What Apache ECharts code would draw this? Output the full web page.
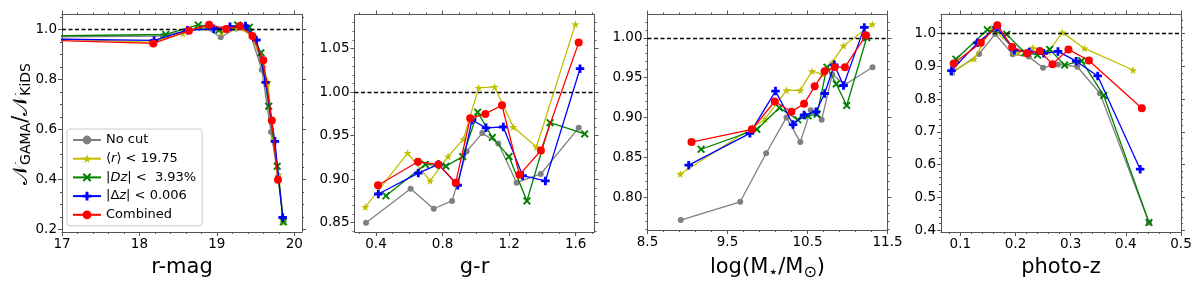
<!DOCTYPE html>
<html><head><meta charset="utf-8">
<script src="https://cdn.jsdelivr.net/npm/echarts@6/dist/echarts.min.js"></script>
<style>html,body{margin:0;padding:0;background:#fff}#c{width:1200px;height:286px}</style>
</head><body><div id="c"></div>
<script>
// ---------------- DATA ----------------
const seriesNames = ['No cut', '⟨r⟩ < 19.75', '|Dz| <  3.93%', '|Δz| < 0.006', 'Combined'];

// Panel 1: r-mag
const rmagNoCut    = [[16.5,0.970],[18.30,0.975],[18.65,0.998],[18.85,1.008],[19.05,0.970],[19.25,1.005],[19.42,0.995],[19.58,0.840],[19.70,0.590],[19.79,0.410],[19.86,0.230]];
const rmagRmean    = [[16.5,0.968],[18.15,0.950],[18.56,0.985],[18.80,1.010],[19.06,0.990],[19.25,1.008],[19.45,0.980],[19.60,0.850],[19.66,0.790],[19.73,0.560],[19.80,0.420],[19.86,0.230]];
const rmagDz       = [[16.5,0.974],[18.34,0.981],[18.76,1.019],[19.03,0.999],[19.27,1.019],[19.42,1.010],[19.57,0.908],[19.67,0.694],[19.78,0.453],[19.86,0.231]];
const rmagDeltaZ   = [[16.5,0.964],[18.19,0.957],[18.62,0.998],[18.96,1.004],[19.17,1.012],[19.37,1.015],[19.51,0.959],[19.63,0.789],[19.75,0.553],[19.85,0.248]];
const rmagCombined = [[16.5,0.961],[18.18,0.945],[18.64,0.996],[18.90,1.020],[19.12,1.003],[19.30,1.015],[19.46,0.975],[19.60,0.878],[19.71,0.637],[19.79,0.399]];

// Panel 2: g-r
const grNoCut    = [[0.340,0.850],[0.608,0.889],[0.747,0.866],[0.857,0.875],[0.945,0.932],[1.039,0.953],[1.135,0.941],[1.245,0.896],[1.390,0.906],[1.618,0.959]];
const grRmean    = [[0.336,0.868],[0.590,0.930],[0.725,0.898],[0.833,0.926],[0.925,0.946],[1.017,1.005],[1.113,1.006],[1.225,0.960],[1.364,0.937],[1.598,1.078]];
const grDz       = [[0.460,0.881],[0.696,0.917],[0.820,0.915],[0.921,0.926],[1.011,0.977],[1.099,0.948],[1.199,0.926],[1.307,0.875],[1.446,0.965],[1.654,0.952]];
const grDeltaZ   = [[0.414,0.883],[0.654,0.907],[0.775,0.917],[0.891,0.893],[0.977,0.968],[1.061,0.959],[1.165,0.960],[1.281,0.904],[1.418,0.898],[1.626,1.027]];
const grCombined = [[0.412,0.893],[0.652,0.920],[0.775,0.917],[0.879,0.896],[0.966,0.970],[1.057,0.975],[1.157,0.985],[1.262,0.905],[1.391,0.933],[1.618,1.057]];

// Panel 3: log stellar mass
const massNoCut    = [[8.915,0.771],[9.659,0.794],[9.983,0.855],[10.237,0.900],[10.410,0.869],[10.540,0.909],[10.677,0.897],[10.810,0.954],[10.968,0.941],[11.313,0.963]];
const massRmean    = [[8.910,0.829],[9.810,0.887],[9.970,0.898],[10.237,0.934],[10.410,0.934],[10.556,0.958],[10.690,0.954],[10.810,0.969],[10.950,0.990],[11.310,1.017]];
const massDz       = [[9.170,0.860],[9.867,0.885],[10.150,0.912],[10.378,0.897],[10.507,0.902],[10.620,0.904],[10.743,0.963],[10.860,0.942],[10.990,0.915],[11.240,1.000]];
const massDeltaZ   = [[9.015,0.840],[9.780,0.880],[10.100,0.933],[10.320,0.891],[10.457,0.903],[10.606,0.907],[10.714,0.930],[10.835,0.966],[10.950,0.940],[11.210,1.013]];
const massCombined = [[9.050,0.869],[9.805,0.885],[10.090,0.920],[10.300,0.907],[10.457,0.917],[10.590,0.939],[10.714,0.958],[10.840,0.963],[10.968,0.963],[11.230,1.003]];

// Panel 4: photo-z
const zNoCut    = [[0.085,0.880],[0.134,0.938],[0.163,0.999],[0.195,0.937],[0.224,0.930],[0.250,0.896],[0.277,0.906],[0.312,0.899],[0.353,0.818],[0.442,0.423]];
const zRmean    = [[0.085,0.884],[0.125,0.923],[0.157,1.017],[0.205,0.943],[0.231,0.957],[0.260,0.945],[0.285,1.004],[0.325,0.955],[0.413,0.889]];
const zDz       = [[0.092,0.922],[0.149,1.012],[0.184,0.998],[0.217,0.942],[0.240,0.935],[0.262,0.952],[0.289,0.904],[0.320,0.917],[0.360,0.811],[0.442,0.423]];
const zDeltaZ   = [[0.084,0.887],[0.131,0.972],[0.166,1.019],[0.198,0.950],[0.225,0.944],[0.251,0.940],[0.277,0.946],[0.310,0.916],[0.349,0.871],[0.426,0.586]];
const zCombined = [[0.088,0.909],[0.137,0.972],[0.167,1.026],[0.194,0.959],[0.221,0.940],[0.244,0.947],[0.267,0.907],[0.296,0.952],[0.333,0.918],[0.429,0.772]];

// Tick labels
const rmagXTicks = [17, 18, 19, 20];
const rmagYTicks = [0.2, 0.4, 0.6, 0.8, 1.0];
const grXTicks = [0.4, 0.8, 1.2, 1.6];
const grYTicks = [0.85, 0.90, 0.95, 1.00, 1.05];
const massXTicks = [8.5, 9.5, 10.5, 11.5];
const massYTicks = [0.80, 0.85, 0.90, 0.95, 1.00];
const zXTicks = [0.1, 0.2, 0.3, 0.4, 0.5];
const zYTicks = [0.4, 0.5, 0.6, 0.7, 0.8, 0.9, 1.0];
const referenceLevel = 1.0;

// ---------------- CHART ----------------
const FONT = 'DejaVu Sans';
const frameColor = '#555';
const colors = ['#808080', '#bfbf00', '#008000', '#0000ff', '#ff0000'];
const symbols = [
  'circle',
  'path://M0,-10L2.35,-3.24L9.51,-3.09L3.8,1.24L5.88,8.09L0,4L-5.88,8.09L-3.8,1.24L-9.51,-3.09L-2.35,-3.24Z',
  'path://M-3,-2L-2,-3L0,-1L2,-3L3,-2L1,0L3,2L2,3L0,1L-2,3L-3,2L-1,0Z',
  'path://M-1,-3L1,-3L1,-1L3,-1L3,1L1,1L1,3L-1,3L-1,1L-3,1L-3,-1L-1,-1Z',
  'circle'
];
const symbolSizes = [6, 8, 8, 8.5, 8];

const panels = [
  {xr:[17, 20.1], yr:[0.19, 1.061], xt:rmagXTicks, yt:rmagYTicks, xdiv:5, ydiv:4, xdec:0, ydec:1,
   name:'r-mag', data:[rmagNoCut, rmagRmean, rmagDz, rmagDeltaZ, rmagCombined]},
  {xr:[0.2708, 1.713], yr:[0.8393, 1.0893], xt:grXTicks, yt:grYTicks, xdiv:4, ydiv:5, xdec:1, ydec:2,
   name:'g-r', data:[grNoCut, grRmean, grDz, grDeltaZ, grCombined]},
  {xr:[8.5, 11.5], yr:[0.7586, 1.0292], xt:massXTicks, yt:massYTicks, xdiv:5, ydiv:5, xdec:1, ydec:2,
   name:'log(M{s|⋆}/M{s|⊙})', data:[massNoCut, massRmean, massDz, massDeltaZ, massCombined]},
  {xr:[0.065, 0.5], yr:[0.394, 1.0587], xt:zXTicks, yt:zYTicks, xdiv:5, ydiv:5, xdec:1, ydec:1,
   name:'photo-z', data:[zNoCut, zRmean, zDz, zDeltaZ, zCombined]}
];
const gridLefts = [62, 354.5, 647.5, 941];
const gridWidth = 240, gridTop = 14.5, gridHeight = 217.5;

function minors(ticks, div, lo, hi) {
  const step = (ticks[1] - ticks[0]) / div;
  const out = [];
  const start = ticks[0] - Math.ceil((ticks[0] - lo) / step) * step;
  for (let v = start; v <= hi + 1e-9; v += step) {
    const isMajor = ticks.some(t => Math.abs(t - v) < step * 1e-3);
    if (!isMajor && v >= lo - 1e-9) out.push(+v.toFixed(6));
  }
  return out;
}

const grids = [], xAxes = [], yAxes = [], series = [];
const lineStyleFrame = {color: frameColor, width: 1};
panels.forEach((p, i) => {
  grids.push({left: gridLefts[i], top: gridTop, width: gridWidth, height: gridHeight});
  const xm = minors(p.xt, p.xdiv, p.xr[0], p.xr[1]);
  const ym = minors(p.yt, p.ydiv, p.yr[0], p.yr[1]);
  const base = (dimMin, dimMax) => ({type: 'value', gridIndex: i, min: dimMin, max: dimMax, splitLine: {show: false}, silent: true});
  ['bottom', 'top'].forEach(pos => {
    xAxes.push(Object.assign(base(p.xr[0], p.xr[1]), {
      position: pos,
      axisLine: {show: true, onZero: false, lineStyle: lineStyleFrame},
      axisTick: {show: true, customValues: p.xt, length: 4, lineStyle: lineStyleFrame},
      axisLabel: pos === 'bottom' ? {show: true, customValues: p.xt, formatter: v => v.toFixed(p.xdec), fontFamily: FONT, fontSize: 13.5, color: '#000', margin: 5} : {show: false},
      name: pos === 'bottom' ? p.name : '',
      nameLocation: 'middle', nameGap: 25,
      nameTextStyle: {fontFamily: FONT, fontSize: 21, color: '#000', rich: {s: {fontFamily: FONT, fontSize: 16, color: '#000', verticalAlign: 'bottom', padding: [10, 0, 0, 0]}}}
    }));
    xAxes.push(Object.assign(base(p.xr[0], p.xr[1]), {
      position: pos,
      axisLine: {show: false, onZero: false},
      axisTick: {show: true, customValues: xm, length: 2, lineStyle: lineStyleFrame},
      axisLabel: {show: false}
    }));
  });
  ['left', 'right'].forEach(pos => {
    yAxes.push(Object.assign(base(p.yr[0], p.yr[1]), {
      position: pos,
      axisLine: {show: true, onZero: false, lineStyle: lineStyleFrame},
      axisTick: {show: true, customValues: p.yt, length: 4, lineStyle: lineStyleFrame},
      axisLabel: pos === 'left' ? {show: true, customValues: p.yt, formatter: v => v.toFixed(p.ydec), fontFamily: FONT, fontSize: 13.5, color: '#000', margin: 5} : {show: false}
    }));
    yAxes.push(Object.assign(base(p.yr[0], p.yr[1]), {
      position: pos,
      axisLine: {show: false, onZero: false},
      axisTick: {show: true, customValues: ym, length: 2, lineStyle: lineStyleFrame},
      axisLabel: {show: false}
    }));
  });
  p.data.forEach((d, k) => {
    const s = {
      type: 'line', name: seriesNames[k], xAxisIndex: i * 4, yAxisIndex: i * 4,
      data: d, clip: true, animation: false,
      symbol: symbols[k], symbolSize: symbolSizes[k], showSymbol: true,
      itemStyle: {color: colors[k]},
      lineStyle: {color: colors[k], width: 1.3},
      z: 2 + k
    };
    if (k === 0) {
      s.markLine = {silent: true, symbol: ['none', 'none'], label: {show: false}, animation: false,
        lineStyle: {color: '#000', type: [4, 2.5], width: 1.3},
        data: [{yAxis: referenceLevel}]};
    }
    series.push(s);
  });
});

const italicNames = {
  'No cut': 'No cut',
  '⟨r⟩ < 19.75': '⟨{i|r}⟩ < 19.75',
  '|Dz| <  3.93%': '|{i|Dz}| <  3.93%',
  '|Δz| < 0.006': '|Δ{i|z}| < 0.006',
  'Combined': 'Combined'
};

const option = {
  animation: false,
  backgroundColor: '#fff',
  grid: grids, xAxis: xAxes, yAxis: yAxes, series: series,
  legend: {
    data: seriesNames, orient: 'vertical', left: 67, top: 129,
    padding: [4, 6, 4, 5], itemWidth: 28, itemHeight: 11, itemGap: 4.7,
    backgroundColor: 'rgba(255,255,255,0.85)', borderColor: '#ccc', borderWidth: 1, borderRadius: 3,
    formatter: n => italicNames[n],
    textStyle: {fontFamily: FONT, fontSize: 13, color: '#000', lineHeight: 14,
      rich: {i: {fontFamily: FONT, fontStyle: 'italic', fontSize: 13, color: '#000', lineHeight: 14}}}
  },
  graphic: [{
    type: 'text', x: 22, y: 124, rotation: Math.PI / 2, silent: true,
    style: {
      text: '{n|𝒩}{s|GAMA}{n|/𝒩}{s|KiDS}',
      align: 'center', verticalAlign: 'middle',
      rich: {
        n: {fontFamily: FONT, fontSize: 21, fill: '#000'},
        s: {fontFamily: FONT, fontSize: 14, fill: '#000', verticalAlign: 'bottom', padding: [8, 0, 0, 0]}
      }
    }
  }]
};
const chart = echarts.init(document.getElementById('c'), null, {renderer: 'canvas'});
chart.setOption(option);
</script></body></html>
